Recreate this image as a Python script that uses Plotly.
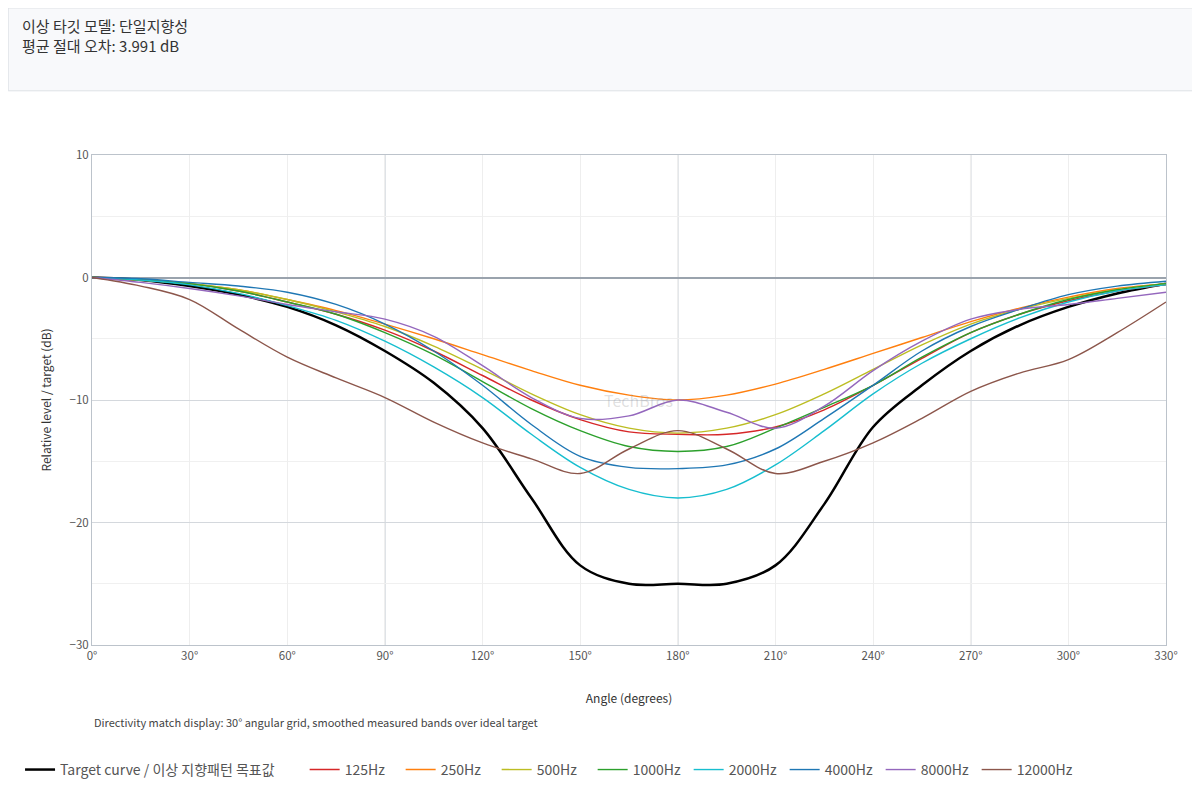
import plotly.graph_objects as go

angles = list(range(0, 331, 15))
target = [0, -0.2, -0.7, -1.4, -2.4, -3.9, -6.0, -8.6, -12.3, -18.0, -23.5, -25.0, -25.0,
          -25.0, -23.5, -18.5, -12.2, -8.8, -6.0, -3.9, -2.4, -1.3, -0.5]
bands = {
    "125Hz": [0, -0.2, -0.5, -1.1, -2.0, -3.0, -4.3, -6.0, -8.0, -10.0, -11.6, -12.6, -12.8,
              -12.8, -12.2, -10.8, -8.8, -6.6, -4.5, -3.0, -1.9, -1.1, -0.6],
    "250Hz": [0, -0.2, -0.5, -1.0, -1.8, -2.7, -3.8, -5.0, -6.3, -7.6, -8.8, -9.6, -10.0,
              -9.6, -8.7, -7.5, -6.2, -4.9, -3.6, -2.5, -1.6, -0.9, -0.5],
    "500Hz": [0, -0.2, -0.5, -1.0, -1.8, -2.8, -4.0, -5.6, -7.5, -9.5, -11.2, -12.3, -12.7,
              -12.3, -11.2, -9.5, -7.5, -5.5, -3.8, -2.6, -1.7, -1.0, -0.5],
    "1000Hz": [0, -0.2, -0.5, -1.1, -2.0, -3.0, -4.5, -6.3, -8.5, -10.7, -12.5, -13.8, -14.2,
               -13.8, -12.3, -10.6, -8.8, -6.5, -4.5, -3.0, -1.8, -1.0, -0.5],
    "2000Hz": [0, -0.2, -0.6, -1.3, -2.3, -3.5, -5.2, -7.3, -9.8, -12.8, -15.5, -17.3, -18.0,
               -17.3, -15.3, -12.5, -9.5, -7.0, -5.0, -3.3, -2.0, -1.1, -0.6],
    "4000Hz": [0, -0.1, -0.4, -0.7, -1.2, -2.2, -3.8, -6.0, -8.8, -12.0, -14.6, -15.5, -15.6,
               -15.3, -14.0, -11.5, -8.8, -6.0, -4.0, -2.6, -1.4, -0.7, -0.3],
    "8000Hz": [0, -0.4, -0.9, -1.5, -2.2, -2.8, -3.4, -4.8, -7.2, -9.8, -11.5, -11.3, -10.0,
               -11.0, -12.3, -10.5, -7.6, -5.2, -3.4, -2.6, -2.2, -1.7, -1.2],
    "12000Hz": [0, -0.7, -1.8, -4.2, -6.5, -8.2, -9.8, -11.8, -13.5, -14.8, -16.0, -14.0, -12.5,
                -14.0, -16.0, -15.0, -13.5, -11.5, -9.3, -7.8, -6.7, -4.5, -2.0],
}
colors = ["#d62728", "#ff7f0e", "#bcbd22", "#2ca02c", "#17becf", "#1f77b4", "#9467bd", "#8c564b"]
tick_angles = list(range(0, 331, 30))
tick_labels = [f"{a}°" for a in tick_angles]

FONT = "Noto Sans CJK KR, Noto Sans, sans-serif"

fig = go.Figure()
fig.add_trace(go.Scatter(x=angles, y=target, mode="lines",
                         name="Target curve / 이상 지향패턴 목표값", legend="legend",
                         line=dict(color="#000000", width=2.5, shape="spline")))
for (name, vals), c in zip(bands.items(), colors):
    fig.add_trace(go.Scatter(x=angles, y=vals, mode="lines", name=name, legend="legend2",
                             line=dict(color=c, width=1.4, shape="spline")))

for a in (90, 180, 270):
    fig.add_shape(type="line", x0=a, x1=a, y0=-30, y1=10, layer="below",
                  line=dict(color="#cfd4da", width=1.5))

# page has an 8px body margin, so the figure is 8px smaller and shifted
fig.update_layout(
    width=1192, height=792,
    paper_bgcolor="white", plot_bgcolor="white",
    font=dict(family=FONT, color="#444"),
    margin=dict(l=84, r=34, t=147, b=155),
    showlegend=True,
    legend=dict(orientation="h", x=-0.067, y=-0.255, xanchor="left", yanchor="middle",
                font=dict(size=14, color="#555"), itemwidth=30),
    legend2=dict(orientation="h", x=0.198, y=-0.255, xanchor="left", yanchor="middle",
                 font=dict(size=14, color="#555"), itemwidth=30,
                 entrywidth=51, entrywidthmode="pixels"),
    xaxis=dict(range=[0, 330], tickvals=tick_angles, ticktext=tick_labels, automargin=False,
               tickfont=dict(size=11.5, color="#555"), gridcolor="#eeeeee", showline=True,
               linecolor="#bcc3cb", mirror=True, zeroline=False,
               title=dict(text="Angle (degrees)", font=dict(size=12, color="#333"), standoff=32)),
    yaxis=dict(range=[-30, 10], dtick=10, tickfont=dict(size=11.5, color="#555"), automargin=False,
               gridcolor="#d4d8dd", showline=True, linecolor="#bcc3cb", mirror=True,
               zeroline=True, zerolinecolor="#9aa3ad", zerolinewidth=1.5,
               minor=dict(dtick=5, showgrid=True, gridcolor="#f0f0f0"),
               title=dict(text="Relative level / target (dB)", font=dict(size=12, color="#333"))),
)

fig.add_shape(type="rect", xref="paper", yref="paper", x0=-0.078, x1=1.031, y0=1.131, y1=1.3,
              fillcolor="#f8f9fb", line=dict(color="#dde1e6", width=1))
fig.add_annotation(xref="paper", yref="paper", x=-0.067, y=1.29, xanchor="left", yanchor="top",
                   align="left", showarrow=False,
                   text="이상 타깃 모델: 단일지향성<br>평균 절대 오차: 3.991 dB",
                   font=dict(size=15, color="#333"))
fig.add_annotation(xref="paper", yref="paper", x=0, y=-0.137, xanchor="left", yanchor="top",
                   showarrow=False, font=dict(size=11, color="#444"),
                   text="Directivity match display: 30° angular grid, smoothed measured bands over ideal target")
fig.add_annotation(xref="x", yref="y", x=168, y=-10, showarrow=False,
                   text="TechBros", font=dict(size=16, color="rgba(150,150,150,0.3)"))

fig.write_html("out.html")
